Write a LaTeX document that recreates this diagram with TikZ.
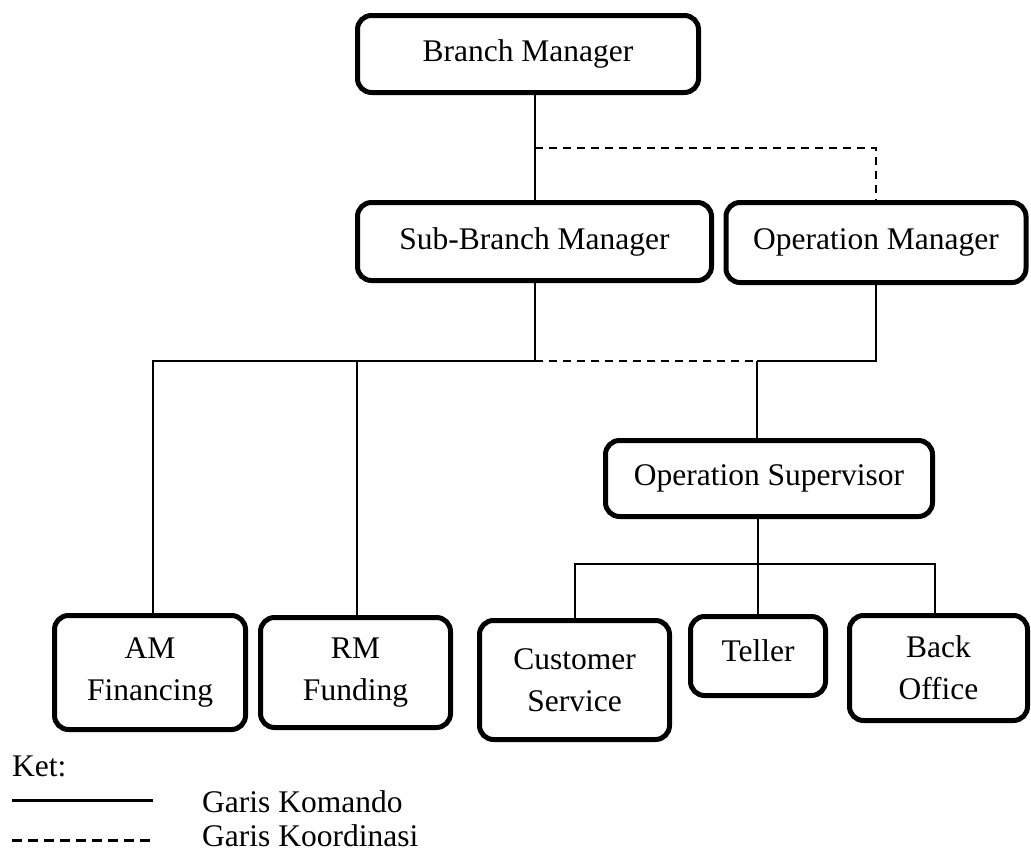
\documentclass[tikz,border=0pt]{standalone}
\usepackage{fontspec}
\setmainfont{Liberation Serif}
\begin{document}
\begin{tikzpicture}[x=1pt,y=-1pt,
  box/.style={draw, line width=5pt, rounded corners=14pt, inner sep=0pt,
    align=center, font=\fontsize{31.5}{42}\selectfont},
  cmd/.style={line width=2pt},
  coord/.style={line width=2pt, dash pattern=on 8pt off 6pt},
  lbl/.style={anchor=base west, inner sep=0pt, font=\fontsize{31.5}{38}\selectfont}]
\useasboundingbox (0,0) rectangle (1031,854);

\node[box, minimum width=341pt, minimum height=77pt] (bm) at (528,54) {Branch Manager};
\node[box, minimum width=354pt, minimum height=78pt] (sbm) at (534.5,241.5) {Sub-Branch Manager};
\node[box, minimum width=300pt, minimum height=80pt] (opm) at (876,242.5) {Operation Manager};
\node[box, minimum width=327pt, minimum height=76pt] (ops) at (769,478.5) {Operation Supervisor};
\node[box, minimum width=191pt, minimum height=114pt] (am) at (150,672.5) {AM\\Financing};
\node[box, minimum width=190pt, minimum height=110pt] (rm) at (355.5,672.5) {RM\\Funding};
\node[box, minimum width=190pt, minimum height=119pt] (cs) at (574.5,680) {Customer\\Service};
\node[box, minimum width=135pt, minimum height=79pt] (tel) at (758,656) {};
\node[inner sep=0pt, font=\fontsize{31.5}{42}\selectfont] (telt) at (758,651) {Teller};
\node[box, minimum width=178pt, minimum height=105pt] (bo) at (938.5,668) {Back\\Office};

\coordinate (d1) at (534.5,148);
\coordinate (ja) at (153,361);
\coordinate (jb) at (357,361);
\coordinate (jc) at (534.5,361);
\coordinate (jd) at (757,361);
\coordinate (je) at (876,361);
\coordinate (ka) at (575,564);
\coordinate (kb) at (758,564);
\coordinate (kc) at (935,564);

% command lines
\draw[cmd] (sbm.north |- bm.south) -- (sbm.north);
\draw[cmd] (sbm.south) -- (jc);
\draw[cmd] (opm.south) -- (je) -- (jd);
\draw[cmd] (jd) -- (jd |- ops.north);
\draw[cmd] (ja |- am.north) -- (ja) -- (jc);
\draw[cmd] (jb) -- (jb |- rm.north);
\draw[cmd] (ops.south -| kb) -- (kb |- tel.north);
\draw[cmd] (ka |- cs.north) -- (ka) -- (kc) -- (kc |- bo.north);

% coordination lines
\draw[coord] (d1) -| (opm.north);
\draw[coord] (jc) -- (jd);

% legend
\node[lbl] (ket) at (12,776) {Ket:};
\coordinate (l1a) at (12,800);
\coordinate (l1b) at (153,800);
\coordinate (l2a) at (12,840);
\coordinate (l2b) at (153,840);
\draw[line width=3pt] (l1a) -- (l1b);
\draw[line width=3pt, dash pattern=on 10pt off 6pt] (l2a) -- (l2b);
\node[lbl] (gk) at (202,812) {Garis Komando};
\node[lbl] (gko) at (202,846) {Garis Koordinasi};
\end{tikzpicture}
\end{document}
